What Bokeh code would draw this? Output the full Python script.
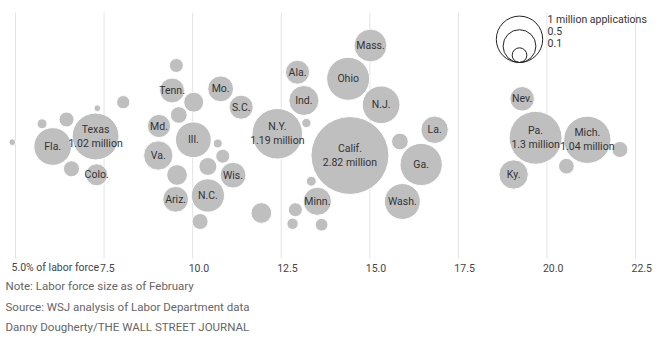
import numpy as np
from bokeh.plotting import figure
from bokeh.models import Range1d, ColumnDataSource
from bokeh.core.properties import value
from bokeh.embed import file_html
from bokeh.resources import INLINE

# ---------------- data ----------------
states = ["", "Fla.", "", "", "", "", "Texas", "", "Colo.", "",
          "Tenn.", "", "", "Md.", "Ill.", "Va.", "", "Ariz.", "N.C.", "",
          "", "", "", "Wis.", "Mo.", "S.C.", "N.Y.", "", "Ala.", "Ind.",
          "", "", "Minn.", "", "", "", "Mass.", "Ohio", "N.J.", "Calif.",
          "La.", "", "Ga.", "Wash.", "Nev.", "Pa.", "Mich.", "", "", "Ky."]
# unemployment applications as share of labor force (%)
pct = [4.91, 6.05, 5.75, 6.44, 7.31, 8.04, 7.26, 6.58, 7.29, 9.54,
       9.42, 10.03, 9.61, 9.05, 10.02, 9.03, 9.56, 9.52, 10.43, 10.21,
       10.71, 10.85, 10.43, 11.14, 10.79, 11.37, 12.39, 11.94, 12.96, 13.14,
       13.21, 13.35, 13.52, 12.90, 12.82, 13.64, 15.02, 14.39, 15.32, 14.44,
       16.83, 15.85, 16.45, 15.92, 19.30, 19.68, 21.14, 22.06, 20.55, 19.06]
# applications (millions)
apps = [0.021, 0.66, 0.046, 0.105, 0.021, 0.082, 1.02, 0.12, 0.225, 0.091,
        0.29, 0.186, 0.13, 0.25, 0.595, 0.40, 0.20, 0.31, 0.515, 0.12,
        0.038, 0.091, 0.15, 0.31, 0.31, 0.27, 1.19, 0.20, 0.27, 0.42,
        0.04, 0.046, 0.37, 0.091, 0.06, 0.075, 0.50, 0.86, 0.66, 2.82,
        0.35, 0.13, 0.83, 0.60, 0.28, 1.3, 1.04, 0.12, 0.115, 0.40]
# vertical beeswarm offset of each bubble
swarm = [-1.7, -6, 16.7, 21, 32.3, 38.3, 4, -28.3, -34.3, 75,
         50, 38.3, 25.5, 14.5, 0.7, -15, -34.5, -58.8, -55, -81,
         -3, -15.7, -26, -34.7, 51.7, 33.3, 6.7, -72.5, 68.3, 40,
         17.5, -40.7, -60.8, -69.2, -83.3, -84.2, 95, 61.7, 35.7, -15,
         10.7, -1, -24, -61, 41.7, 2.7, 0.7, -9, -25.7, -34]

ticks = [5.0, 7.5, 10.0, 12.5, 15.0, 17.5, 20.0, 22.5]
tick_labels = ["5.0% of labor force", "7.5", "10.0", "12.5", "15.0", "17.5", "20.0", "22.5"]

legend_vals = [1.0, 0.5, 0.1]
legend_labels = ["1 million applications", "0.5", "0.1"]

notes = ["Note: Labor force size as of February",
         "Source: WSJ analysis of Labor Department data",
         "Danny Dougherty/THE WALL STREET JOURNAL"]

# ---------------- layout ----------------
W, H = 668, 343
PX = 620 / 17.5               # pixels per percentage point
X0 = 5.0 - 15 / PX
X1 = X0 + W / PX
YC = 140                      # screen row of the swarm centre line
R1 = 23.2                     # radius (px) of a 1-million bubble

def sx(px):
    return X0 + px / PX

def sy(py):
    return YC - py

FONT = value("Roboto")

p = figure(width=W, height=H, output_backend="svg", toolbar_location=None,
           x_range=Range1d(X0, X1), y_range=Range1d(YC - H, YC),
           min_border=0, outline_line_color=None)
p.axis.visible = False
p.grid.visible = False
p.background_fill_color = "white"

# gridlines
p.segment(x0=ticks, x1=ticks, y0=[sy(12)] * len(ticks), y1=[sy(258)] * len(ticks),
          line_color="#e3e3e3", line_width=1)
p.text(x=ticks, y=[sy(267)] * len(ticks), text=tick_labels,
       text_font=FONT, text_font_size="10.5px", text_color="#444444",
       text_align="left", text_baseline="middle", x_offset=-4)

# bubbles
labels = [f"{s}\n{a:g} million" if a >= 1 else s for s, a in zip(states, apps)]
src = ColumnDataSource(dict(x=pct, y=swarm,
                            size=[2 * R1 * np.sqrt(a) for a in apps],
                            label=labels))
p.scatter(x="x", y="y", size="size", source=src, fill_color="#bfbfbf",
          line_color="white", line_width=1)
p.text(x="x", y="y", text="label", source=src, text_font=FONT,
       text_font_size="10.5px", text_color="#333333", text_align="center",
       text_baseline="middle", text_line_height=1.1)

# size legend
lx, lbottom = 519, 62
lr = [R1 * np.sqrt(v) for v in legend_vals]
p.scatter(x=[sx(lx)] * 3, y=[sy(lbottom - r) for r in lr], size=[2 * r for r in lr],
          fill_color=None, line_color="#222222", line_width=1)
p.text(x=[sx(547)] * 3, y=[sy(19), sy(30), sy(42.5)], text=legend_labels,
       text_font=FONT, text_font_size="10.5px", text_color="#333333",
       text_align="left", text_baseline="middle")

# notes
p.text(x=[sx(5)] * 3, y=[sy(285.5), sy(306), sy(326)], text=notes,
       text_font=FONT, text_font_size="11.5px", text_color="#666666",
       text_align="left", text_baseline="middle")

open("out.html", "w").write(file_html(p, INLINE))
